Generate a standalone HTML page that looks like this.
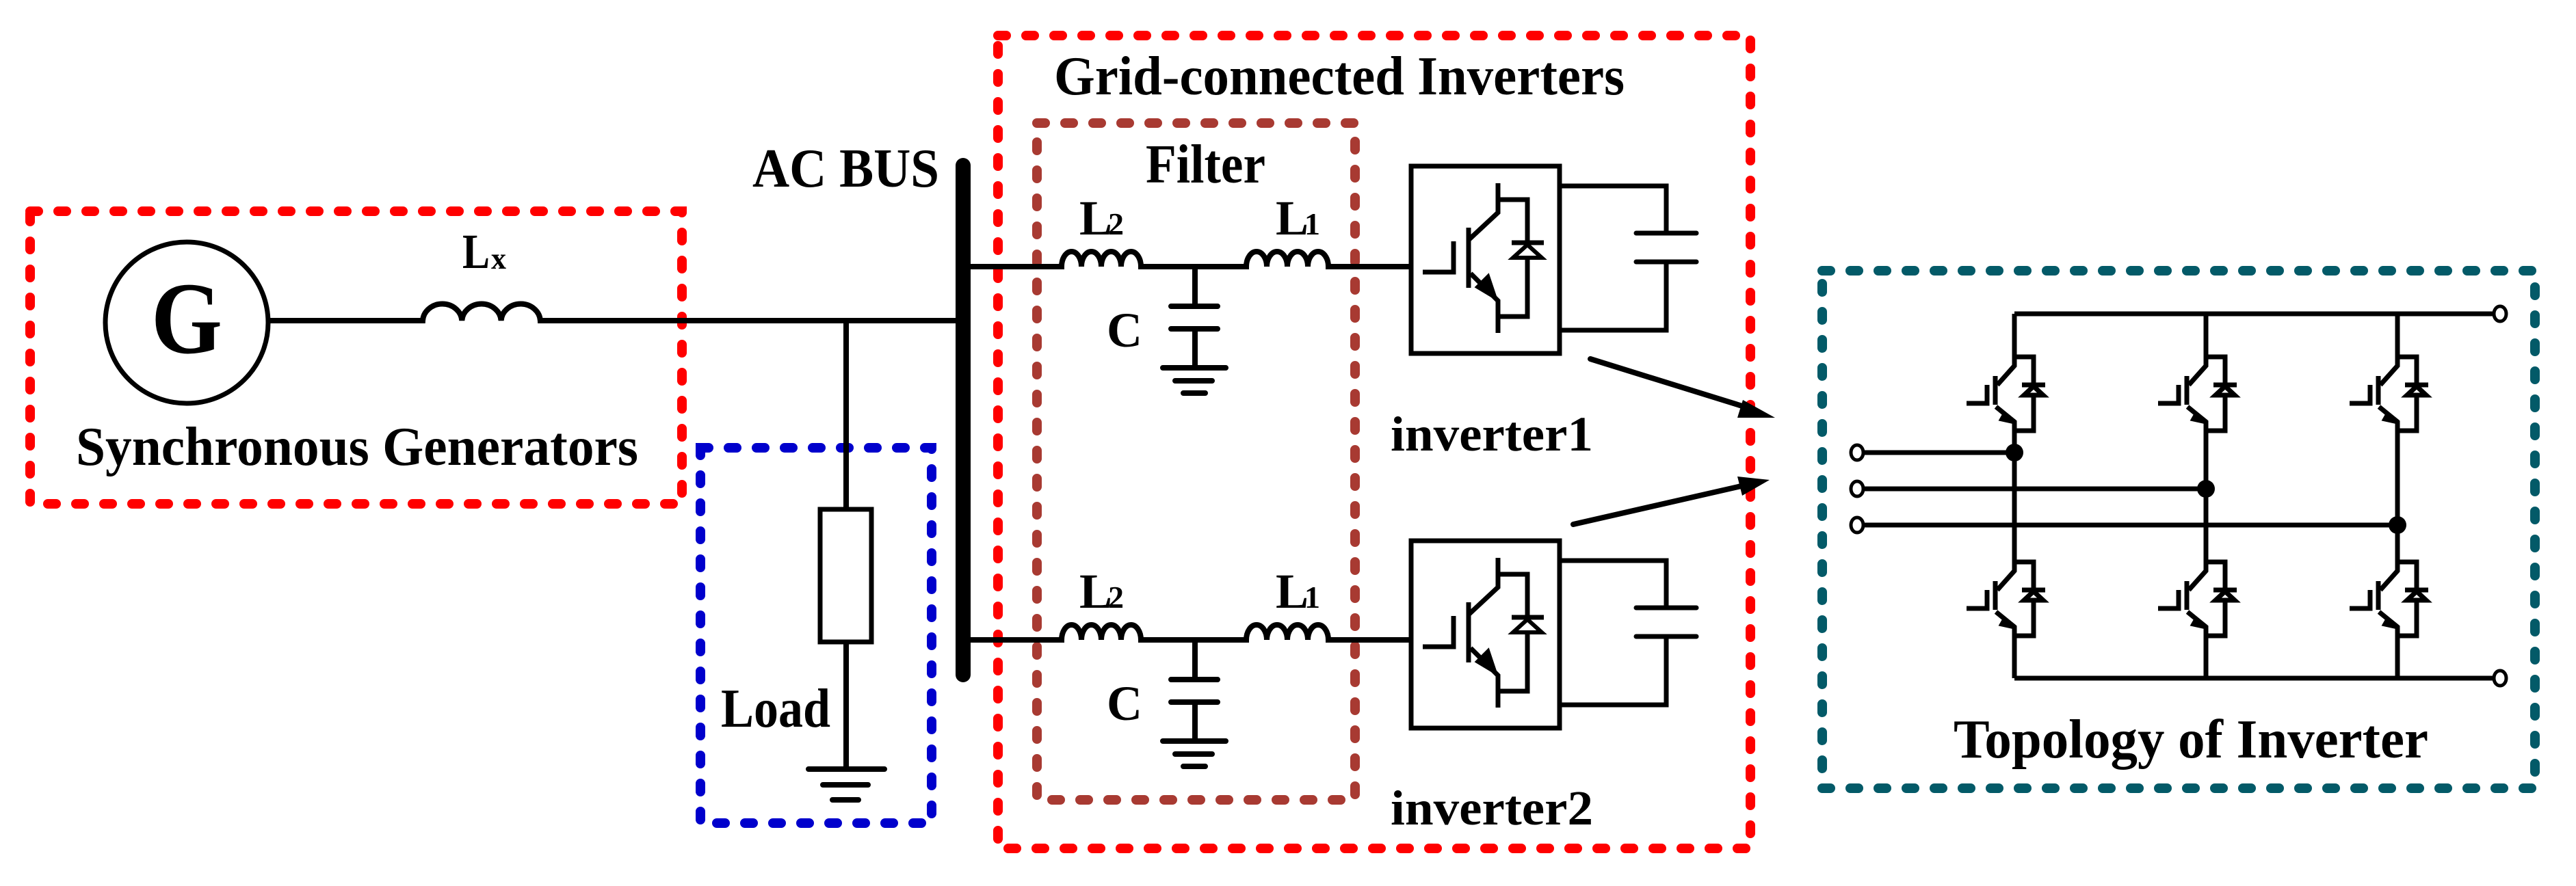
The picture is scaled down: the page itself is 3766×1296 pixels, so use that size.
<!DOCTYPE html>
<html><head><meta charset="utf-8"><style>
html,body{margin:0;padding:0;background:#fff}
svg{display:block}
</style></head><body>
<svg width="3766" height="1296" viewBox="0 0 3766 1296" xmlns="http://www.w3.org/2000/svg">
<defs>
<g id="sw" fill="none" stroke="#000" stroke-width="7" stroke-linejoin="miter">
  <path d="M0,0 V13 L-25,41"/>
  <path d="M-28,28 V70"/>
  <path d="M-70,68 H-40 V41"/>
  <path d="M-27,73 L0,95 V110"/>
  <path d="M-14,84 L0,95 L-18,91 Z" fill="#000"/>
  <path d="M0,0 H28 V108 H0"/>
  <path d="M11,41 H45"/>
  <path d="M28,43 L14,56 H42 Z" fill="#fff"/>
</g>
<g id="inv" fill="none" stroke="#000" stroke-width="7">
  <rect x="2063" y="243" width="217" height="274"/>
  <path d="M2190,268 V311 L2147,351"/>
  <path d="M2147,333 V421"/>
  <path d="M2080,398 H2125 V353"/>
  <path d="M2150,400 L2190,440 V487"/>
  <path d="M2188,438 L2176,402 L2158,420 Z" fill="#000" stroke-width="3"/>
  <path d="M2190,292 H2233 V463 H2190"/>
  <path d="M2210,355 H2257"/>
  <path d="M2233,358 L2212,377 H2254 Z" fill="#fff" stroke-width="6"/>
  <path d="M2280,272 H2436 V341"/>
  <path d="M2392,341 H2480 M2392,383 H2480" stroke-linecap="round"/>
  <path d="M2436,383 V483 H2280"/>
</g>
</defs>

<g fill="none" stroke-width="14" stroke-linecap="round" stroke-dasharray="12 29">
  <rect x="44" y="309" width="953" height="428" stroke="#ff0000"/>
  <rect x="1024" y="655" width="338" height="549" stroke="#0000cc"/>
  <rect x="1459" y="52" width="1100" height="1189" stroke="#ff0000"/>
  <rect x="1516" y="180" width="465" height="990" stroke="#a83a32"/>
  <rect x="2664" y="396" width="1042" height="757" stroke="#035a68"/>
</g>

<ellipse cx="273" cy="472" rx="119" ry="118" fill="none" stroke="#000" stroke-width="7"/>
<text x="221" y="516" style="font-family:'Liberation Serif',serif;font-weight:bold" font-size="150" textLength="104" lengthAdjust="spacingAndGlyphs">G</text>
<g fill="none" stroke="#000" stroke-width="8">
  <path d="M392,469 H618 a28.7,26 0 0 1 57.3,0 a28.7,26 0 0 1 57.3,0 a28.7,26 0 0 1 57.3,0 H1408"/>
  <path d="M1237,469 V745 M1237,939 V1125"/>
  <rect x="1199" y="745" width="75" height="194" stroke-width="7"/>
  <path d="M1182,1125 H1293 M1203,1148 H1269 M1217,1170 H1255" stroke-linecap="round"/>
  <path d="M1408,242 V987" stroke-width="22" stroke-linecap="round"/>
</g>
<text x="676" y="392" style="font-family:'Liberation Serif',serif;font-weight:bold" font-size="72" textLength="40" lengthAdjust="spacingAndGlyphs">L</text>
<text x="718" y="393" style="font-family:'Liberation Serif',serif;font-weight:bold" font-size="44">x</text>
<text x="111" y="680" style="font-family:'Liberation Serif',serif;font-weight:bold" font-size="80" textLength="822" lengthAdjust="spacingAndGlyphs">Synchronous Generators</text>
<text x="1054" y="1063" style="font-family:'Liberation Serif',serif;font-weight:bold" font-size="80" textLength="160" lengthAdjust="spacingAndGlyphs">Load</text>
<text x="1100" y="273" style="font-family:'Liberation Serif',serif;font-weight:bold" font-size="80" textLength="273" lengthAdjust="spacingAndGlyphs">AC BUS</text>
<text x="1541" y="138" style="font-family:'Liberation Serif',serif;font-weight:bold" font-size="80" textLength="834" lengthAdjust="spacingAndGlyphs">Grid-connected Inverters</text>
<text x="1675" y="267" style="font-family:'Liberation Serif',serif;font-weight:bold" font-size="80" textLength="175" lengthAdjust="spacingAndGlyphs">Filter</text>

<g id="br">
<g fill="none" stroke="#000" stroke-width="8">
  <path d="M1408,390 H1552 a14.5,22 0 0 1 29,0 a14.5,22 0 0 1 29,0 a14.5,22 0 0 1 29,0 a14.5,22 0 0 1 29,0 H1822 a15,22 0 0 1 30,0 a15,22 0 0 1 30,0 a15,22 0 0 1 30,0 a15,22 0 0 1 30,0 H2063"/>
  <path d="M1747,390 V448 M1747,481 V538"/>
  <path d="M1712,448 H1780 M1712,481 H1780 M1700,538 H1792 M1718,557 H1772 M1730,575 H1762" stroke-linecap="round"/>
</g>
<text x="1578" y="343" style="font-family:'Liberation Serif',serif;font-weight:bold" font-size="72">L</text>
<text x="1620" y="343" style="font-family:'Liberation Serif',serif;font-weight:bold" font-size="46">2</text>
<text x="1865" y="343" style="font-family:'Liberation Serif',serif;font-weight:bold" font-size="72">L</text>
<text x="1907" y="343" style="font-family:'Liberation Serif',serif;font-weight:bold" font-size="46">1</text>
<text x="1618" y="507" style="font-family:'Liberation Serif',serif;font-weight:bold" font-size="72">C</text>
</g>
<use href="#br" transform="translate(0,546)"/>

<use href="#inv"/>
<use href="#inv" transform="translate(0,548)"/>
<text x="2033" y="659" style="font-family:'Liberation Serif',serif;font-weight:bold" font-size="72" textLength="296" lengthAdjust="spacingAndGlyphs">inverter1</text>
<text x="2033" y="1206" style="font-family:'Liberation Serif',serif;font-weight:bold" font-size="72" textLength="296" lengthAdjust="spacingAndGlyphs">inverter2</text>

<g stroke="#000" stroke-width="8" stroke-linecap="round">
  <path d="M2325,525 L2560,598"/>
  <path d="M2300,767 L2550,710"/>
</g>
<path d="M2595,611 L2548,585 L2540,611 Z" fill="#000"/>
<path d="M2587,702 L2540,697 L2547,725 Z" fill="#000"/>

<g fill="none" stroke="#000" stroke-width="7">
  <path d="M2945,459 H3646 M2945,992 H3646"/>
  <path d="M2945,459 V535 M2945,617 V835 M2945,917 V992"/>
  <path d="M3225,459 V535 M3225,617 V835 M3225,917 V992"/>
  <path d="M3505,459 V535 M3505,617 V835 M3505,917 V992"/>
  <path d="M2724,662 H2945 M2724,715 H3225 M2724,768 H3505"/>
</g>
<use href="#sw" transform="translate(2945,522)"/>
<use href="#sw" transform="translate(3225,522)"/>
<use href="#sw" transform="translate(3505,522)"/>
<use href="#sw" transform="translate(2945,822)"/>
<use href="#sw" transform="translate(3225,822)"/>
<use href="#sw" transform="translate(3505,822)"/>
<g fill="#000">
  <ellipse cx="2945" cy="662" rx="13" ry="13"/>
  <ellipse cx="3225" cy="715" rx="13" ry="13"/>
  <ellipse cx="3505" cy="768" rx="13" ry="13"/>
</g>
<g fill="#fff" stroke="#000" stroke-width="5">
  <ellipse cx="2715" cy="662" rx="9" ry="11"/>
  <ellipse cx="2715" cy="715" rx="9" ry="11"/>
  <ellipse cx="2715" cy="768" rx="9" ry="11"/>
  <ellipse cx="3655" cy="459" rx="9" ry="11"/>
  <ellipse cx="3655" cy="992" rx="9" ry="11"/>
</g>
<text x="2856" y="1108" style="font-family:'Liberation Serif',serif;font-weight:bold" font-size="80" textLength="694" lengthAdjust="spacingAndGlyphs">Topology of Inverter</text>
</svg>
</body></html>
